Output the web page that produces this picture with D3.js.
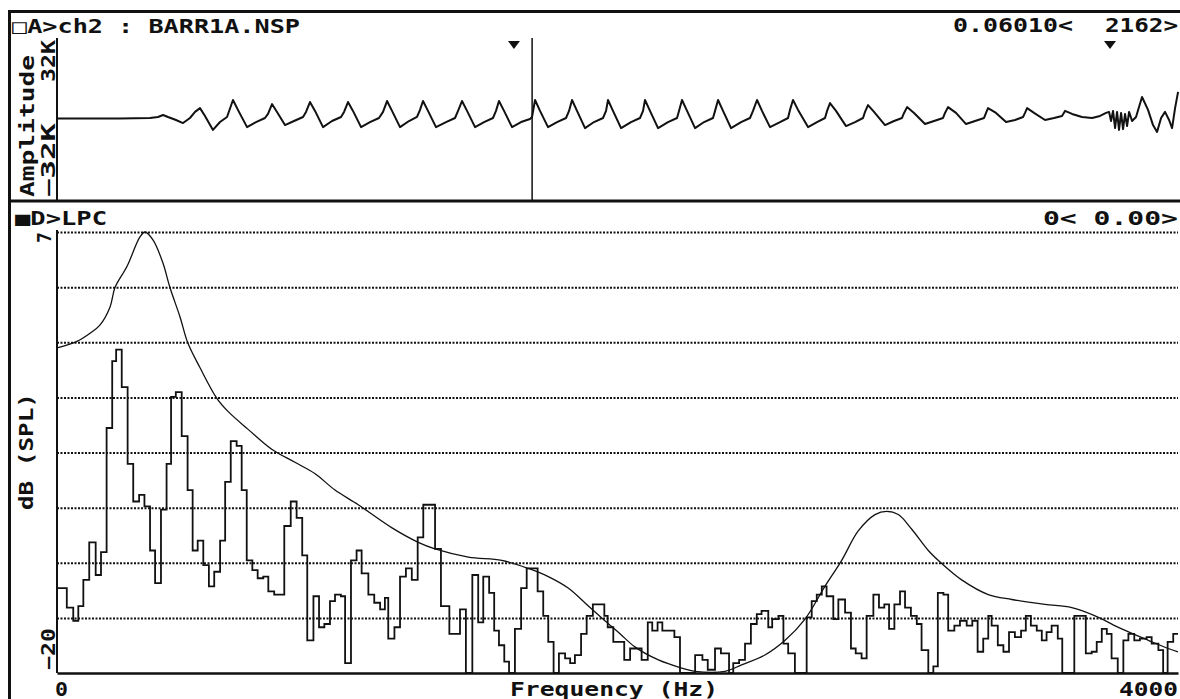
<!DOCTYPE html>
<html><head><meta charset="utf-8">
<script src="https://cdn.jsdelivr.net/npm/d3@7"></script>
<style>
html,body{margin:0;padding:0;background:#fff;}
svg{display:block;}
text{font-family:"DejaVu Sans Mono","Liberation Mono",monospace;font-weight:bold;fill:#111;}
</style></head>
<body>
<svg id="chart" width="1180" height="699"></svg>
<script>
// ---------- DATA ----------
// Upper panel: waveform (time in ms, amplitude in K)
const waveform = [
 [0,0.2],[7.97,0.2],[11.76,0.4],[12.78,0.8],[13.41,1.6],[14.04,0.8],[15.05,-0.4],[15.94,-1.6],[16.82,0.4],[17.46,2.8],
 [18.09,4.3],[18.72,1.2],[19.73,-4.3],[20.62,-1.2],[21.51,0.8],[22.26,7.5],[23.02,2.8],[24.04,-3.2],[25.17,-1.2],[26.31,0.4],
 [26.69,2.0],[27.20,5.9],[27.83,2.8],[28.84,-2.4],[29.98,-0.8],[31.12,0.8],[31.50,2.8],[32.00,6.7],[32.64,3.2],[33.65,-3.2],
 [34.79,-0.8],[35.93,0.8],[36.31,2.8],[36.81,6.7],[37.44,3.2],[38.46,-3.2],[39.59,-1.2],[40.73,0.4],[41.24,2.8],[41.75,7.1],
 [42.38,3.2],[43.39,-3.2],[44.53,-0.8],[45.54,0.8],[45.92,3.6],[46.30,7.1],[46.93,3.2],[47.94,-3.2],[49.21,-1.2],[50.35,0.4],
 [50.73,3.2],[51.23,7.1],[51.87,3.2],[52.88,-3.2],[54.02,-1.2],[55.15,0.4],[55.53,3.2],[55.91,7.1],[56.55,3.2],[57.56,-3.2],
 [58.70,-1.2],[59.83,0.0],[60.09,0.8],[60.47,7.5],[61.10,3.2],[62.11,-3.2],[63.25,-1.2],[64.39,0.4],[64.77,3.2],[65.15,7.5],
 [65.78,3.2],[66.79,-3.6],[67.93,-1.2],[69.07,0.4],[69.45,3.2],[69.70,7.5],[70.33,3.2],[71.35,-3.6],[72.61,-1.2],[73.75,0.4],
 [74.13,3.2],[74.38,7.5],[75.01,3.2],[76.03,-3.6],[77.29,-1.2],[78.43,0.4],[78.68,3.2],[79.06,7.5],[79.70,3.2],[80.71,-3.6],
 [81.85,-1.2],[82.98,0.4],[83.24,3.2],[83.62,7.5],[84.25,3.2],[85.26,-3.6],[86.53,-1.2],[87.66,0.4],[88.04,3.2],[88.55,7.5],
 [89.18,3.2],[90.19,-3.2],[91.46,-1.2],[92.47,0.4],[92.72,3.6],[93.10,7.5],[93.74,3.6],[95.00,-3.2],[96.14,-1.2],[97.15,0.4],
 [97.41,3.2],[97.78,6.3],[98.54,3.2],[99.81,-2.8],[100.95,-1.2],[101.96,0.4],[102.21,2.8],[102.59,5.5],[103.35,2.8],[104.74,-2.4],
 [105.88,-0.8],[106.89,0.4],[107.15,2.4],[107.53,4.7],[108.41,2.4],[109.80,-2.0],[110.94,-0.8],[112.08,0.4],[112.33,2.4],[112.71,4.7],
 [113.72,2.4],[114.99,-2.0],[116.13,-0.8],[117.27,0.4],[117.52,2.4],[117.77,4.3],[118.78,2.4],[120.05,-1.2],[121.19,-0.4],[122.20,0.8],
 [122.45,2.4],[122.71,4.3],[123.59,2.4],[124.98,-0.4],[126.12,0.4],[127.13,1.2],[127.51,3.2],[128.40,2.0],[129.66,0.8],[130.93,0.4],
 [131.94,1.2],[132.70,2.4],[133.08,2.8],[133.33,-0.8],[133.58,3.2],[133.84,-3.6],[134.09,2.8],[134.34,-4.3],[134.60,2.4],[134.85,-4.0],
 [135.10,2.0],[135.36,-2.8],[135.61,2.8],[135.99,-0.8],[136.49,0.8],[137.25,8.7],[138.01,3.6],[138.64,-2.4],[139.15,-5.1],[139.66,0.4],
 [140.16,2.8],[140.67,-0.4],[141.05,-3.6],[141.43,4.3],[141.81,10.7]
];
const timeDomain = [0, 141.8];          // ms
const ampDomain = [-32, 32];            // K
const ampLabels = ["32K", "\u221232K"];
const cursorTime = 60.10;               // ms
const markerTimes = [57.8, 133.2];      // ms

// Lower panel: FFT step spectrum (start freq Hz, dB)
const spectrum = [
 [0,-14.8],[35,-16.0],[58,-16.8],[76,-15.9],[94,-14.3],[115,-12.0],[138,-14.0],[157,-12.6],[177,-5.0],[197,-0.9],
 [211,-0.2],[231,-2.5],[252,-7.2],[272,-9.5],[293,-9.1],[312,-9.8],[332,-12.5],[350,-14.5],[371,-10.0],[391,-7.2],
 [407,-3.1],[424,-2.8],[445,-5.5],[466,-8.8],[484,-12.5],[502,-11.9],[522,-13.4],[542,-14.7],[561,-13.8],[582,-11.9],
 [600,-8.3],[620,-5.8],[641,-6.1],[659,-8.8],[677,-13.1],[697,-13.7],[716,-14.2],[736,-14.1],[754,-15.0],[775,-15.2],
 [811,-11.0],[834,-9.5],[855,-10.5],[875,-12.8],[893,-18.0],[915,-15.3],[935,-17.2],[954,-17.0],[974,-15.6],[992,-15.2],
 [1013,-15.3],[1028,-19.4],[1049,-13.1],[1069,-12.5],[1087,-13.9],[1111,-15.2],[1132,-15.7],[1153,-16.1],[1170,-15.4],[1182,-17.9],
 [1204,-17.2],[1224,-14.1],[1245,-13.6],[1266,-14.3],[1287,-11.7],[1307,-9.7],[1349,-12.4],[1370,-15.9],[1400,-17.6],[1438,-16.1],
 [1459,-20],[1482,-14.0],[1503,-16.9],[1521,-14.1],[1542,-15.1],[1560,-17.4],[1577,-18.3],[1596,-19.3],[1613,-20],[1634,-17.3],
 [1656,-14.8],[1676,-13.6],[1715,-15.0],[1735,-16.5],[1753,-18.1],[1772,-20],[1791,-18.8],[1813,-19.1],[1831,-19.4],[1848,-18.9],
 [1870,-17.6],[1890,-16.5],[1912,-15.8],[1953,-16.5],[1965,-17.2],[1985,-18.1],[2024,-19.2],[2045,-18.5],[2086,-19.2],[2108,-16.9],
 [2124,-17.4],[2143,-16.9],[2160,-17.4],[2203,-17.8],[2223,-20],[2277,-18.9],[2303,-19.2],[2322,-19.8],[2348,-18.5],[2369,-18.8],
 [2398,-20],[2413,-19.4],[2434,-19.2],[2455,-18.2],[2476,-17.0],[2497,-16.4],[2514,-16.2],[2538,-17.2],[2552,-16.7],[2574,-16.5],
 [2592,-18.2],[2609,-18.8],[2633,-20],[2675,-16.6],[2693,-15.6],[2711,-15.2],[2729,-14.7],[2746,-15.3],[2770,-16.7],[2788,-15.5],
 [2812,-16.3],[2833,-18.5],[2850,-18.8],[2871,-19.1],[2889,-16.5],[2913,-15.2],[2933,-16.0],[2952,-15.8],[2969,-17.3],[2988,-15.8],
 [3008,-15.0],[3026,-16.0],[3047,-16.5],[3068,-17.0],[3085,-18.6],[3109,-20],[3127,-19.6],[3143,-15.1],[3163,-15.2],[3180,-17.4],
 [3202,-17.1],[3222,-16.8],[3246,-17.1],[3266,-16.8],[3285,-18.7],[3305,-17.9],[3323,-16.5],[3335,-17.1],[3357,-18.3],[3377,-18.7],
 [3397,-17.5],[3418,-17.8],[3440,-17.4],[3457,-16.5],[3475,-17.1],[3496,-17.4],[3514,-18.0],[3531,-17.5],[3549,-17.1],[3571,-17.9],
 [3587,-20],[3630,-16.5],[3671,-18.8],[3692,-18.7],[3710,-18.1],[3728,-17.3],[3746,-17.6],[3763,-19.1],[3785,-20],[3805,-18.0],
 [3823,-17.6],[3844,-18.0],[3864,-17.9],[3888,-17.8],[3906,-18.2],[3930,-18.6],[3947,-20],[3963,-18.1],[3983,-17.6],[4000,-17.6]
];
// Lower panel: LPC envelope (Hz, dB)
const lpc = [
 [0,-0.1],[71,0.3],[118,0.8],[153,1.3],[189,2.4],[207,3.6],[250,4.9],[296,6.7],[314,7.0],[343,6.5],
 [378,5.1],[403,3.6],[439,1.8],[467,0.2],[510,-1.3],[571,-3.2],[611,-4.0],[683,-5.1],[766,-6.3],[849,-7.1],[921,-7.8],
 [992,-8.8],[1075,-9.7],[1194,-11.1],[1289,-12.0],[1349,-12.4],[1468,-12.9],[1587,-13.1],[1682,-13.6],[1753,-14.1],[1824,-14.8],
 [1896,-15.9],[1955,-16.8],[2009,-17.6],[2062,-18.4],[2146,-19.2],[2229,-19.7],[2276,-19.9],[2384,-19.9],[2443,-19.5],[2526,-18.9],
 [2598,-18.0],[2669,-16.7],[2740,-14.7],[2800,-13.1],[2859,-11.3],[2919,-10.3],[2960,-10.1],[3002,-10.3],[3050,-11.2],[3109,-12.5],
 [3157,-13.3],[3228,-14.3],[3323,-15.2],[3407,-15.5],[3525,-15.8],[3621,-16.0],[3704,-16.5],[3799,-17.3],[3894,-18.0],[3965,-18.5],[4000,-18.7]
];
const freqDomain = [0, 4000];
const dbDomain = [-20, 7];
const dbGrid = [7, 3.625, 0.25, -3.125, -6.5, -9.875, -13.25, -16.625];
const dbLabels = ["7", "\u221220"];
const freqLabels = ["0", "4000"];
const titles = {
  top: "\u25A1A>ch2 : BARR1A.NSP", topTime: "0.06010<", topSamples: "2162>",
  low: "\u25A0D>LPC", lowRight: "0<  0.00>",
  xTitle: "Frequency (Hz)", yTitle: "dB (SPL)", ampTitle: "Amplitude"
};

// ---------- DRAW ----------
const svg = d3.select("#chart");
const INK = "#111";
const L = 57, R = 1178;
const x = d3.scaleLinear().domain(freqDomain).range([L, R]);
const y = d3.scaleLinear().domain(dbDomain).range([673, 232]);
const xt = d3.scaleLinear().domain(timeDomain).range([L, R]);
const ya = d3.scaleLinear().domain(ampDomain).range([200, 38]);

function txt(s, px, py, len, opts = {}) {
  const t = svg.append("text").attr("x", px).attr("y", py)
    .attr("font-size", opts.size || 19)
    .attr("text-anchor", opts.anchor || "start")
    .text(s);
  if (len) t.attr("textLength", len).attr("lengthAdjust", "spacingAndGlyphs");
  if (opts.rot) t.attr("transform", `rotate(-90 ${px} ${py})`);
  return t;
}

// frame
svg.append("line").attr("x1", 8).attr("x2", 1180).attr("y1", 11.5).attr("y2", 11.5).attr("stroke", INK).attr("stroke-width", 3);
svg.append("line").attr("x1", 9.5).attr("x2", 9.5).attr("y1", 10).attr("y2", 699).attr("stroke", INK).attr("stroke-width", 3);
svg.append("line").attr("x1", 8).attr("x2", 1180).attr("y1", 201).attr("y2", 201).attr("stroke", INK).attr("stroke-width", 3);

// ---- Upper panel ----
svg.append("line").attr("x1", L).attr("x2", L).attr("y1", ya(32)).attr("y2", ya(-32)).attr("stroke", INK).attr("stroke-width", 2);
svg.append("line").attr("x1", xt(cursorTime)).attr("x2", xt(cursorTime)).attr("y1", ya(32)).attr("y2", ya(-32)).attr("stroke", INK).attr("stroke-width", 1.5);
svg.selectAll("path.mk").data(markerTimes).join("path").attr("class", "mk")
  .attr("d", t => `M${xt(t) - 6},41 L${xt(t) + 6},41 L${xt(t)},49 Z`).attr("fill", INK);
const wline = d3.line().x(d => xt(d[0])).y(d => ya(d[1]));
svg.append("path").datum(waveform).attr("d", wline).attr("fill", "none").attr("stroke", INK).attr("stroke-width", 2).attr("stroke-linejoin", "round");

txt(titles.top, 12, 33, 288);
txt(titles.topTime, 953, 32, 120);
txt(titles.topSamples, 1105, 32, 73);
txt(titles.ampTitle, 34, 197, 142, { rot: true });
txt(ampLabels[0], 55, ya(32) + 2, 42, { rot: true, anchor: "end" });
txt(ampLabels[1], 55, ya(-32) - 3, 74, { rot: true, anchor: "start" });

// ---- Lower panel ----
const grid = svg.append("g").attr("transform", `translate(${L},0)`)
  .call(d3.axisLeft(y).tickValues(dbGrid).tickSize(-(R - L)).tickFormat(""));
grid.select(".domain").remove();
grid.selectAll(".tick line").attr("stroke", "#111").attr("stroke-width", 2).attr("stroke-dasharray", "2,1.5");

svg.append("line").attr("x1", L).attr("x2", L).attr("y1", y(7) - 2).attr("y2", y(-20)).attr("stroke", INK).attr("stroke-width", 2);
const xa = svg.append("g").attr("transform", `translate(0,${y(-20)})`)
  .call(d3.axisBottom(x).tickValues([]).tickSizeOuter(0));
xa.select(".domain").attr("stroke", INK).attr("stroke-width", 2.5);

const sline = d3.line().x(d => x(d[0])).y(d => y(d[1])).curve(d3.curveStepAfter);
svg.append("path").datum(spectrum).attr("d", sline).attr("fill", "none").attr("stroke", INK).attr("stroke-width", 1.8);
const lline = d3.line().x(d => x(d[0])).y(d => y(d[1])).curve(d3.curveCatmullRom);
svg.append("path").datum(lpc).attr("d", lline).attr("fill", "none").attr("stroke", INK).attr("stroke-width", 1.3);

txt(titles.low, 15, 225, 92);
txt(titles.lowRight, 1043, 225, 135);
txt(dbLabels[0], 51, y(7), 11, { rot: true, anchor: "end" });
txt(dbLabels[1], 55, y(-20) - 3, 42, { rot: true, anchor: "start" });
txt(titles.yTitle, 33, 510, 117, { rot: true });
txt(freqLabels[0], x(0) - 2, 696, 13);
txt(freqLabels[1], x(4000), 696, 59, { anchor: "end" });
txt(titles.xTitle, 510, 696, 208);
</script>
</body></html>
